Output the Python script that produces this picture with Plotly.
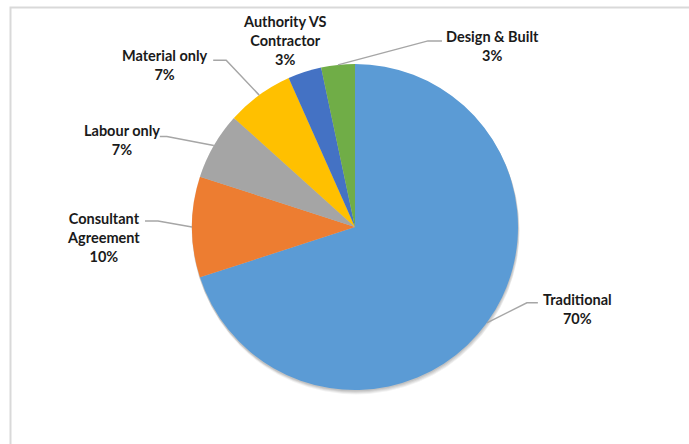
import math
import plotly.graph_objects as go

# ---- data ----
categories = ["Traditional", "Consultant<br>Agreement", "Labour only", "Material only",
              "Authority VS<br>Contractor", "Design & Built"]
counts = [21, 3, 2, 2, 1, 1]
colors = ["#5B9BD5", "#ED7D31", "#A5A5A5", "#FFC000", "#4472C4", "#70AD47"]

# ---- layout / style (pixels) ----
W, H = 689, 444
CX, CY, R = 355, 227, 163
# label centre offset from the slice's outer mid-point, leader end offset, elbow length (toward pie)
label_off = [(91, -14), (-89, 10), (-92, -5), (-94, -30), (-20, -31), (155, -19)]
leader_end = [(51, -20), (-47, -6), (-54, -9), (-46, -35), None, (104, -24)]
elbow_len = [11, 13, 7, 13, 0, 14]

def px(x):
    return x / W

def py(y):
    return 1 - y / H

total = sum(counts)
dom_x = [px(CX - R), px(CX + R)]
dom_y = [py(CY + R), py(CY - R)]

fig = go.Figure()

# soft shadow layers
for i, (ox, oy, a) in enumerate([(1, 4, 0.05), (1, 3, 0.06), (0.5, 2, 0.07), (0, 1, 0.08)]):
    fig.add_trace(go.Pie(
        values=[1], labels=["s%d" % i], sort=False,
        domain=dict(x=[px(CX - R + ox - 0.5), px(CX + R + ox + 0.5)],
                    y=[py(CY + R + oy + 0.5), py(CY - R + oy - 0.5)]),
        marker=dict(colors=["rgba(0,0,0,%s)" % a], line=dict(width=0)),
        textinfo="none", hoverinfo="skip", showlegend=False))

fig.add_trace(go.Pie(
    values=counts, labels=categories, sort=False, direction="clockwise", rotation=0,
    domain=dict(x=dom_x, y=dom_y),
    marker=dict(colors=colors, line=dict(width=0)),
    textinfo="none", hoverinfo="label+percent", showlegend=False))

shapes = []
annotations = []
cum = 0
for i, (cat, v) in enumerate(zip(categories, counts)):
    mid = (cum + v / 2) / total * 2 * math.pi
    cum += v
    ex = CX + R * math.sin(mid)
    ey = CY - R * math.cos(mid)
    lx, ly = ex + label_off[i][0], ey + label_off[i][1]
    pct = round(v / total * 100)
    annotations.append(dict(
        x=px(lx), y=py(ly), xref="paper", yref="paper", showarrow=False,
        text="<b>%s</b><br><b>%d%%</b>" % (cat.replace("<br>", "</b><br><b>"), pct),
        font=dict(family="Lato", size=14.5, color="#1a1a1a"),
        align="center", xanchor="center", yanchor="middle"))
    if leader_end[i] is not None:
        tx, ty = ex + leader_end[i][0], ey + leader_end[i][1]
        sgn = 1 if tx > ex else -1
        bx = tx - sgn * elbow_len[i]
        shapes.append(dict(
            type="path", xref="paper", yref="paper",
            path="M %f %f L %f %f L %f %f" % (px(ex), py(ey), px(bx), py(ty), px(tx), py(ty)),
            line=dict(color="#A6A6A6", width=1.5)))

# chart-area border (top and left edges visible)
shapes.append(dict(type="path", xref="paper", yref="paper",
                   path="M %f %f L %f %f L %f %f" % (px(10.5), py(H + 5), px(10.5), py(7.5), px(W + 5), py(7.5)),
                   line=dict(color="#D9D9D9", width=2)))

fig.update_layout(
    width=W, height=H, margin=dict(l=0, r=0, t=0, b=0),
    paper_bgcolor="white", plot_bgcolor="white",
    shapes=shapes, annotations=annotations, showlegend=False)

fig.write_html("out.html")
